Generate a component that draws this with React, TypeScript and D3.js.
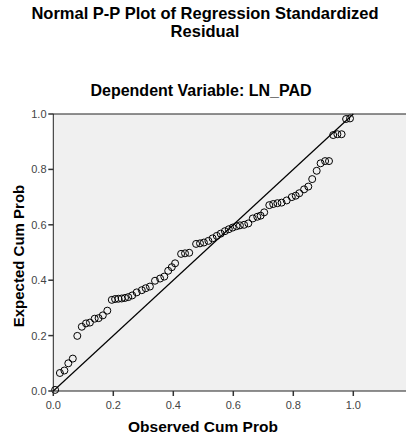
import React from "react";
import * as d3 from "d3";

const observed = [
  0.006, 0.022, 0.037, 0.05, 0.065, 0.08, 0.095, 0.109, 0.122, 0.138, 0.151, 0.165, 0.18,
  0.195, 0.206, 0.217, 0.228, 0.239, 0.25, 0.263, 0.278, 0.295, 0.308, 0.322, 0.339, 0.356,
  0.37, 0.383, 0.395, 0.406, 0.426, 0.439, 0.453, 0.476, 0.489, 0.502, 0.517, 0.531, 0.545,
  0.558, 0.572, 0.585, 0.598, 0.611, 0.622, 0.636, 0.65, 0.665, 0.68, 0.691, 0.703, 0.72,
  0.733, 0.747, 0.761, 0.778, 0.795, 0.808, 0.82, 0.836, 0.85, 0.863, 0.878, 0.891, 0.906,
  0.919, 0.933, 0.947, 0.961, 0.976, 0.989,
];
const expected = [
  0.004, 0.065, 0.074, 0.1, 0.117, 0.199, 0.232, 0.244, 0.247, 0.261, 0.263, 0.273, 0.29,
  0.329, 0.332, 0.333, 0.334, 0.336, 0.339, 0.345, 0.356, 0.364, 0.371, 0.377, 0.398, 0.406,
  0.413, 0.434, 0.447, 0.461, 0.495, 0.497, 0.499, 0.531, 0.533, 0.536, 0.542, 0.551, 0.56,
  0.568, 0.577, 0.584, 0.59, 0.595, 0.598, 0.6, 0.605, 0.623, 0.629, 0.633, 0.645, 0.671,
  0.675, 0.678, 0.68, 0.688, 0.7, 0.705, 0.714, 0.728, 0.738, 0.765, 0.795, 0.822, 0.83,
  0.83, 0.924, 0.927, 0.927, 0.982, 0.984,
];
const tickValues = [0, 0.2, 0.4, 0.6, 0.8, 1.0];
const refLine = [0, 1];
const titleLines = ["Normal P-P Plot of Regression Standardized", "Residual"];

const W = 406;
const H = 436;
const FONT = "'Liberation Sans', Arial, sans-serif";

export default function App() {
  const x = d3.scaleLinear().domain([0, 1]).range([53.3, 353.3]);
  const y = d3.scaleLinear().domain([0, 1]).range([391, 114]);
  const xMax = 1.2;
  const fmt = d3.format(".1f");
  const line = d3
    .line<number>()
    .x((d) => x(d))
    .y((d) => y(d));

  return (
    <svg
      width={W}
      height={H}
      style={{ position: "absolute", left: 0, top: 0, background: "#fff" }}
    >
      {titleLines.map((l, i) => (
        <text
          key={i}
          x={205}
          y={19 + i * 18}
          textAnchor="middle"
          fontFamily={FONT}
          fontWeight="bold"
          fontSize={16.5}
          fill="#000"
        >
          {l}
        </text>
      ))}
      <text x={201} y={96} textAnchor="middle" fontFamily={FONT} fontWeight="bold" fontSize={16} fill="#000">
        Dependent Variable: LN_PAD
      </text>

      <rect
        x={x(0)}
        y={y(1)}
        width={x(xMax) - x(0)}
        height={y(0) - y(1)}
        fill="#f0f0f0"
        stroke="#222"
        strokeWidth={1}
      />

      <path d={line(refLine) || ""} fill="none" stroke="#000" strokeWidth={1.2} />

      {observed.map((o, i) => (
        <circle
          key={i}
          cx={x(o)}
          cy={y(expected[i])}
          r={3.5}
          fill="none"
          stroke="#000"
          strokeWidth={1}
        />
      ))}

      {tickValues.map((t) => (
        <g key={"x" + t}>
          <line x1={x(t)} x2={x(t)} y1={y(0)} y2={y(0) + 5} stroke="#333" strokeWidth={1.5} />
          <text x={x(t)} y={409} textAnchor="middle" fontFamily={FONT} fontSize={11} fill="#444">
            {fmt(t)}
          </text>
        </g>
      ))}
      {tickValues.map((t) => (
        <g key={"y" + t}>
          <line x1={x(0) - 5} x2={x(0)} y1={y(t)} y2={y(t)} stroke="#333" strokeWidth={1.5} />
          <text x={46.5} y={y(t) + 4} textAnchor="end" fontFamily={FONT} fontSize={11} fill="#444">
            {fmt(t)}
          </text>
        </g>
      ))}

      <text x={203} y={432} textAnchor="middle" fontFamily={FONT} fontWeight="bold" fontSize={15.5} fill="#000">
        Observed Cum Prob
      </text>
      <text
        transform={`translate(24, 256) rotate(-90)`}
        textAnchor="middle"
        fontFamily={FONT}
        fontWeight="bold"
        fontSize={15}
        fill="#000"
      >
        Expected Cum Prob
      </text>
    </svg>
  );
}
